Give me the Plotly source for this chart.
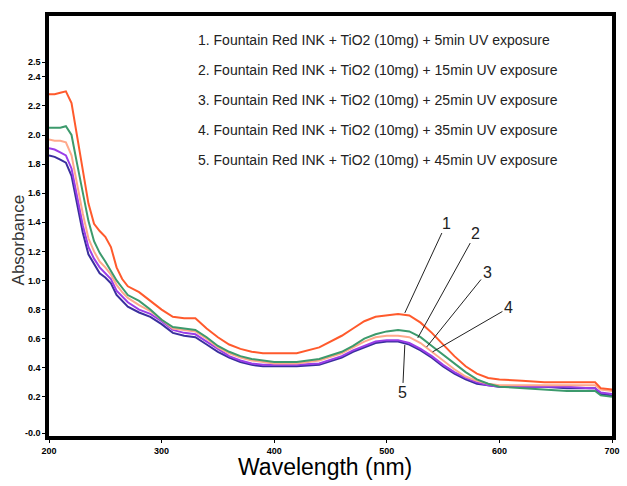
import plotly.graph_objects as go

wavelength = [200, 205, 210, 215, 220, 225, 230, 235, 240, 245, 250, 255, 260, 265, 270,
              280, 290, 300, 310, 320, 330, 340, 350, 360, 370, 380, 390, 400, 420, 440,
              460, 470, 480, 490, 500, 510, 520, 530, 540, 550, 560, 570, 580, 590, 600,
              620, 640, 660, 680, 685, 690, 700]

abs_5min = [2.28, 2.28, 2.29, 2.30, 2.22, 1.98, 1.74, 1.53, 1.39, 1.34, 1.30, 1.23, 1.09, 1.01, 0.96,
            0.92, 0.86, 0.80, 0.75, 0.74, 0.74, 0.67, 0.61, 0.56, 0.53, 0.51, 0.50, 0.50, 0.50, 0.54,
            0.62, 0.67, 0.72, 0.75, 0.76, 0.77, 0.76, 0.71, 0.64, 0.56, 0.48, 0.41, 0.36, 0.33, 0.32,
            0.31, 0.30, 0.30, 0.30, 0.30, 0.26, 0.25]
abs_15min = [2.05, 2.05, 2.05, 2.06, 2.00, 1.80, 1.60, 1.41, 1.27, 1.19, 1.13, 1.06, 1.00, 0.95, 0.90,
             0.86, 0.80, 0.73, 0.68, 0.67, 0.66, 0.61, 0.55, 0.51, 0.48, 0.46, 0.45, 0.44, 0.44, 0.46,
             0.51, 0.55, 0.60, 0.63, 0.65, 0.66, 0.65, 0.61, 0.55, 0.49, 0.43, 0.37, 0.32, 0.29, 0.27,
             0.26, 0.25, 0.24, 0.24, 0.24, 0.21, 0.20]
abs_25min = [1.97, 1.96, 1.96, 1.95, 1.86, 1.66, 1.46, 1.29, 1.20, 1.13, 1.09, 1.04, 0.97, 0.92, 0.88,
             0.83, 0.79, 0.73, 0.67, 0.66, 0.65, 0.60, 0.54, 0.50, 0.47, 0.45, 0.44, 0.43, 0.43, 0.45,
             0.50, 0.54, 0.58, 0.61, 0.62, 0.62, 0.61, 0.57, 0.51, 0.45, 0.39, 0.34, 0.31, 0.29, 0.28,
             0.28, 0.28, 0.28, 0.28, 0.28, 0.25, 0.24]
abs_35min = [1.91, 1.90, 1.88, 1.86, 1.77, 1.58, 1.38, 1.23, 1.15, 1.09, 1.05, 1.01, 0.93, 0.89, 0.85,
             0.80, 0.77, 0.72, 0.66, 0.64, 0.63, 0.58, 0.53, 0.48, 0.45, 0.43, 0.42, 0.42, 0.42, 0.43,
             0.48, 0.52, 0.55, 0.58, 0.59, 0.59, 0.57, 0.53, 0.48, 0.42, 0.37, 0.33, 0.30, 0.28, 0.27,
             0.27, 0.27, 0.27, 0.26, 0.26, 0.23, 0.22]
abs_45min = [1.86, 1.85, 1.83, 1.81, 1.72, 1.53, 1.33, 1.18, 1.11, 1.05, 1.02, 0.98, 0.90, 0.86, 0.82,
             0.78, 0.75, 0.70, 0.64, 0.62, 0.61, 0.56, 0.51, 0.47, 0.44, 0.42, 0.41, 0.41, 0.41, 0.42,
             0.47, 0.51, 0.54, 0.57, 0.58, 0.58, 0.56, 0.52, 0.47, 0.41, 0.36, 0.32, 0.29, 0.28, 0.27,
             0.27, 0.27, 0.26, 0.26, 0.26, 0.22, 0.21]

series_labels = [
    "1. Fountain Red INK + TiO2 (10mg) + 5min UV exposure",
    "2. Fountain Red INK + TiO2 (10mg) + 15min UV exposure",
    "3. Fountain Red INK + TiO2 (10mg) + 25min UV exposure",
    "4. Fountain Red INK + TiO2 (10mg) + 35min UV exposure",
    "5. Fountain Red INK + TiO2 (10mg) + 45min UV exposure",
]
series_values = [abs_5min, abs_15min, abs_25min, abs_35min, abs_45min]
colors = ["#FF5A2C", "#3C9A6C", "#FFA98C", "#9A3DE8", "#3A2F9E"]

y_tickvals = [-0.05, 0.2, 0.4, 0.6, 0.8, 1.0, 1.2, 1.4, 1.6, 1.8, 2.0, 2.2, 2.4, 2.5]
y_ticktext = ["-0.0", "0.2", "0.4", "0.6", "0.8", "1.0", "1.2", "1.4", "1.6", "1.8", "2.0", "2.2", "2.4", "2.5"]
x_tickvals = [200, 300, 400, 500, 600, 700]

fig = go.Figure()
# draw in reverse so curve 1 sits on top
for name, vals, col in reversed(list(zip(series_labels, series_values, colors))):
    fig.add_trace(go.Scatter(x=wavelength, y=vals, mode="lines", name=name,
                             line=dict(color=col, width=2)))

tick_font = dict(family="Liberation Sans, Arial", size=9, color="black", weight="bold")
fig.update_layout(
    width=627, height=486,
    margin=dict(l=49, r=7, t=16, b=50),
    paper_bgcolor="white", plot_bgcolor="white",
    showlegend=False,
    xaxis=dict(range=[200, 700], tickvals=x_tickvals, showgrid=False, zeroline=False,
               showline=True, linecolor="black", linewidth=3.5, mirror=True,
               ticks="outside", ticklen=3, tickcolor="black", tickfont=tick_font),
    yaxis=dict(range=[-0.069, 2.818], tickvals=y_tickvals, ticktext=y_ticktext,
               showgrid=False, zeroline=False,
               showline=True, linecolor="black", linewidth=3.5, mirror=True,
               ticks="outside", ticklen=3, tickcolor="black", tickfont=tick_font),
)

label_font = dict(family="Liberation Sans, Arial", size=14, color="#222222")
legend_y = [0.943, 0.871, 0.800, 0.729, 0.657]
for txt, yy in zip(series_labels, legend_y):
    fig.add_annotation(xref="paper", yref="paper", x=0.261, y=yy, text=txt,
                       showarrow=False, xanchor="left", yanchor="middle", font=label_font)

# numbered callouts with leader lines (positions are styling, in data units)
callouts = [("1", 516, 0.777, 553, 1.395), ("2", 527.5, 0.605, 579, 1.326),
            ("3", 535.4, 0.543, 589, 1.058), ("4", 540.6, 0.509, 608, 0.811),
            ("5", 516, 0.557, 514, 0.227)]
for t, px, py, tx, ty in callouts:
    fig.add_annotation(x=px, y=py, ax=tx, ay=ty, axref="x", ayref="y", xref="x", yref="y",
                       text=t, showarrow=True, arrowhead=0, arrowwidth=1, arrowcolor="#222222",
                       font=dict(family="Liberation Sans, Arial", size=16, color="#222222"))

fig.add_annotation(xref="paper", yref="paper", x=0.49, y=-0.074, text="Wavelength (nm)",
                   showarrow=False, xanchor="center", yanchor="middle",
                   font=dict(family="Liberation Sans, Arial", size=23, color="black"))
fig.add_annotation(xref="paper", yref="paper", x=-0.054, y=0.467, text="Absorbance",
                   showarrow=False, textangle=-90, xanchor="center", yanchor="middle",
                   font=dict(family="Liberation Sans, Arial", size=17, color="#333333"))

fig.write_html("out.html")
